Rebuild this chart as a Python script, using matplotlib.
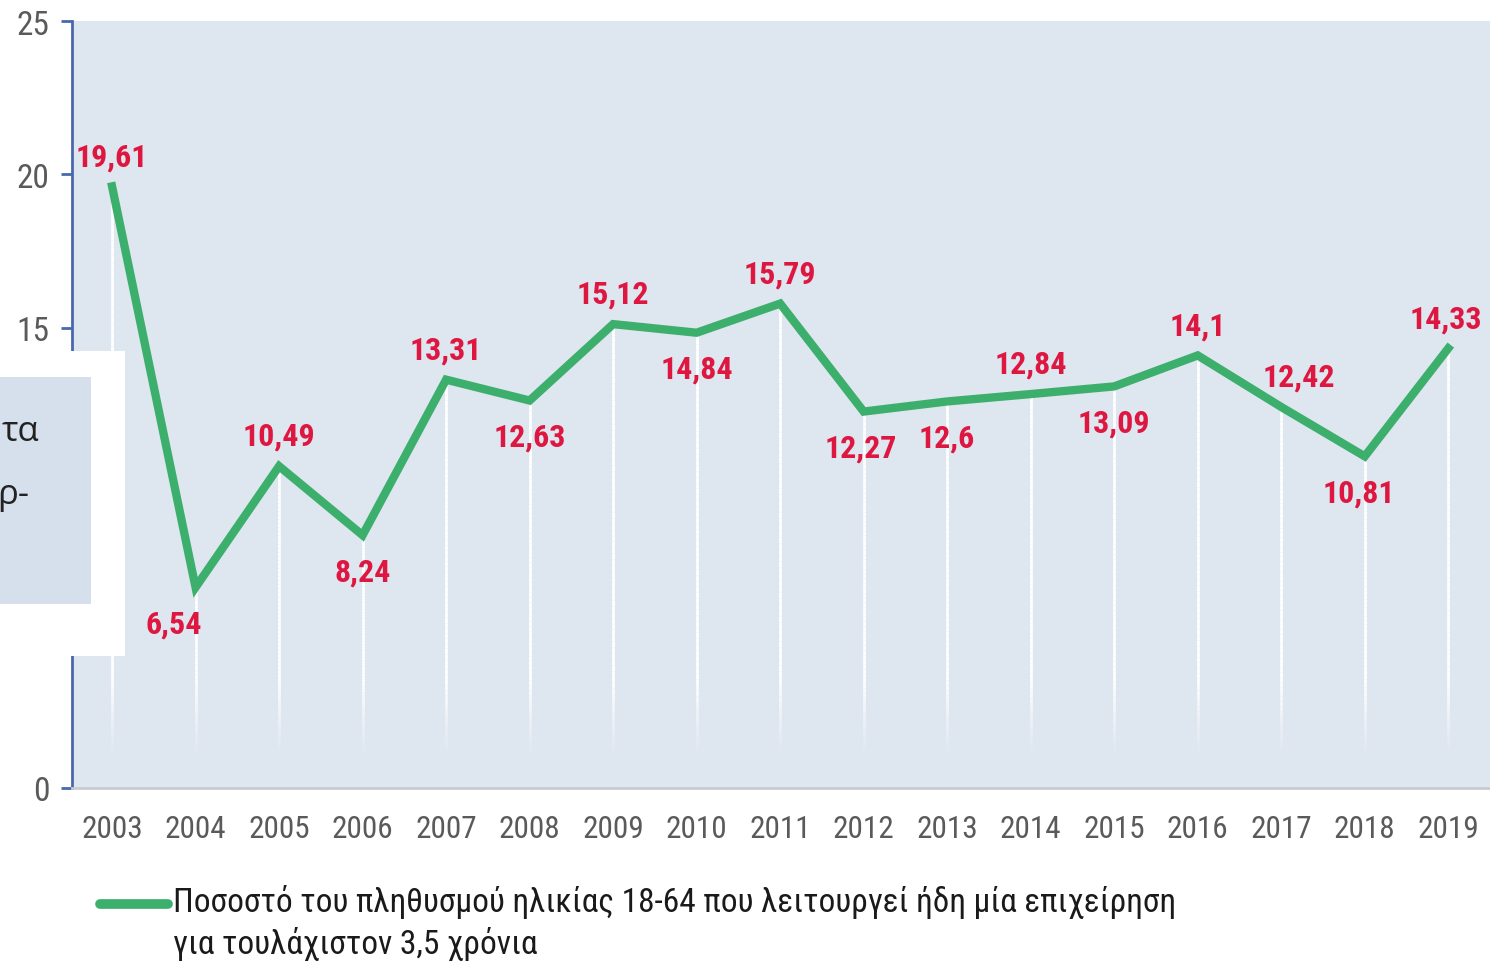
import numpy as np
import matplotlib.pyplot as plt
from matplotlib.collections import LineCollection
from matplotlib import font_manager

# data
years = ["2003", "2004", "2005", "2006", "2007", "2008", "2009", "2010", "2011",
         "2012", "2013", "2014", "2015", "2016", "2017", "2018", "2019"]
values = [19.61, 6.54, 10.49, 8.24, 13.31, 12.63, 15.12, 14.84, 15.79,
          12.27, 12.6, 12.84, 13.09, 14.1, 12.42, 10.81, 14.33]
labels = ["19,61", "6,54", "10,49", "8,24", "13,31", "12,63", "15,12", "14,84", "15,79",
          "12,27", "12,6", "12,84", "13,09", "14,1", "12,42", "10,81", "14,33"]
yticks = [0, 5, 10, 15, 20, 25]
legend_text = ("Ποσοστό του πληθυσμού ηλικίας 18-64 που λειτουργεί ήδη μία επιχείρηση\n"
               "για τουλάχιστον 3,5 χρόνια")

# label placement: above/below the point, with small sideways nudge (points)
above = [True, False, True, False, True, False, True, False, True,
         False, False, True, False, True, True, False, True]
nudge = [0, -16, 0, 0, 0, 0, 0, 0, 0, -2, 0, 0, 0, 0, 13, -4, -2]

GREEN = "#3daf6c"
RED = "#de1741"
GREY = "#5a5a5a"
BLUE = "#4a69ad"
BG = "#dee6f0"

names = {f.name for f in font_manager.fontManager.ttflist}
FONT = [n for n in ["Roboto Condensed", "Roboto"] if n in names] + ["DejaVu Sans"]
plt.rcParams["font.family"] = FONT

fig = plt.figure(figsize=(14.9, 9.7), dpi=100)
ax = fig.add_axes([0.0483, 0.1866, 0.9517, 0.7907])
ax.set_facecolor(BG)

x = np.arange(len(years))

# white drop lines fading towards the bottom
for xi, v in zip(x, values):
    ys = np.linspace(0, v, 80)
    segs = [[(xi, ys[i]), (xi, ys[i + 1])] for i in range(len(ys) - 1)]
    alphas = np.clip((ys[:-1] - 1.0) / 2.5, 0, 1)
    cols = [(1, 1, 1, a) for a in alphas]
    ax.add_collection(LineCollection(segs, colors=cols, linewidths=2, zorder=1))

ax.plot(x, values, color=GREEN, lw=6, solid_joinstyle="miter", zorder=3)

for xi, v, lab, up, dx in zip(x, values, labels, above, nudge):
    ax.annotate(lab, (xi, v), xytext=(dx, 11 if up else -15), textcoords="offset points",
                ha="center", va="bottom" if up else "top", color=RED,
                fontsize=23, fontweight="bold", zorder=4)

ax.set_xlim(-0.48, len(years) - 0.5)
ax.set_ylim(0, 25)
ax.set_xticks(x)
ax.set_xticklabels(years)
ax.set_yticks(yticks)

for s in ["top", "right"]:
    ax.spines[s].set_visible(False)
ax.spines["left"].set_color(BLUE)
ax.spines["left"].set_linewidth(2)
ax.spines["bottom"].set_color("#c8ccd0")
ax.spines["bottom"].set_linewidth(2)
ax.tick_params(axis="y", colors=BLUE, length=8, width=2, labelcolor=GREY,
               labelsize=24, pad=8)
ax.tick_params(axis="x", length=0, labelcolor=GREY, labelsize=22.5, pad=19)

# legend
fig.add_artist(plt.Line2D([0.067, 0.113], [0.0675, 0.0675], color=GREEN, lw=7,
                          solid_capstyle="round"))
fig.text(0.116, 0.088, legend_text, ha="left", va="top", fontsize=24,
         color="#1a1a1a", linespacing=1.3)

# cropped side panel from the original layout (covers the 5 and 10 ticks)
fig.patches.append(plt.Rectangle((0, 1 - 657 / 970), 125 / 1490, 305 / 970,
                                 transform=fig.transFigure, facecolor="white",
                                 edgecolor="none", zorder=5))
fig.patches.append(plt.Rectangle((0, 1 - 605 / 970), 91 / 1490, 227 / 970,
                                 transform=fig.transFigure, facecolor="#d6e0ec",
                                 edgecolor="none", zorder=6))
for t, lbl in zip(yticks, ax.get_yticklabels()):
    if t in (5, 10):
        lbl.set_visible(False)
fig.text(39 / 1490, 1 - 432 / 970, "τα", ha="right", va="center", fontsize=25,
         color="#222222", zorder=7, family=["Open Sans", "DejaVu Sans"])
fig.text(29 / 1490, 1 - 495 / 970, "ρ-", ha="right", va="center", fontsize=25,
         color="#222222", zorder=7, family=["Open Sans", "DejaVu Sans"])

fig.savefig("out.png", dpi=100, facecolor="white")
